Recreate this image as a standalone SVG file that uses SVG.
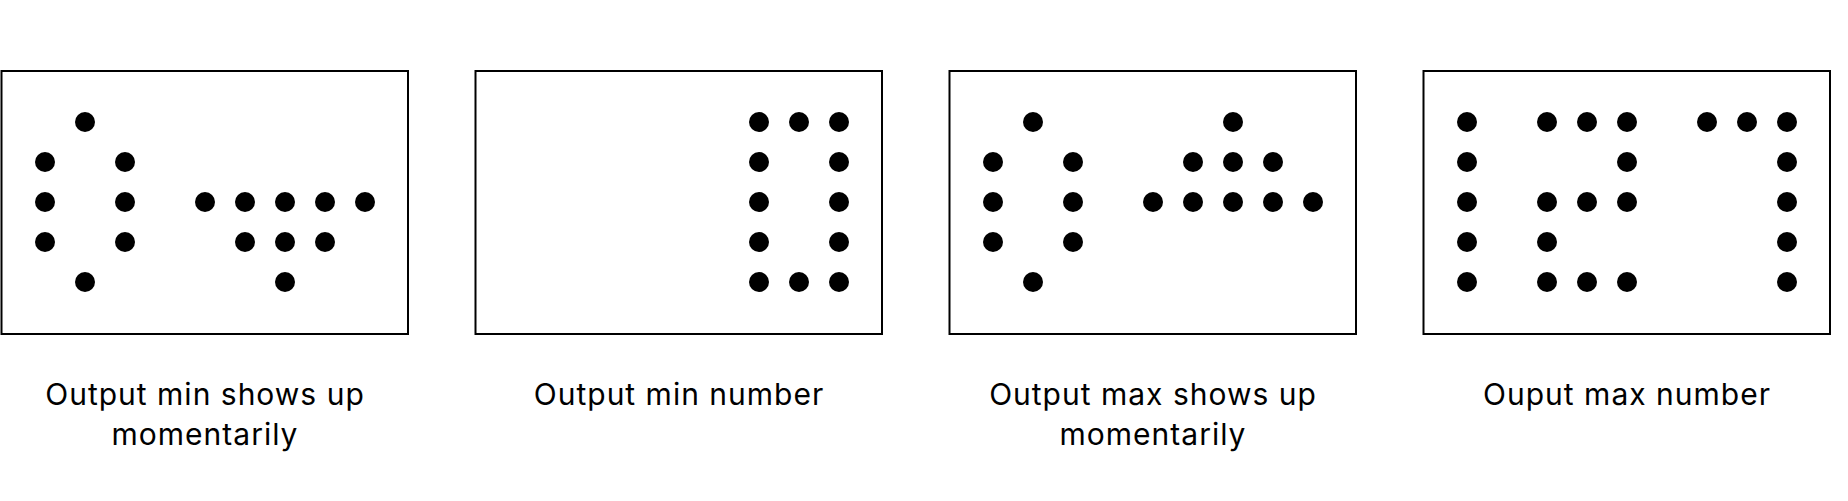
<svg xmlns="http://www.w3.org/2000/svg" width="1848" height="501" viewBox="0 0 1848 501">
<style>
.box{fill:#fff;stroke:#000;stroke-width:2}
.d{fill:#000}
.lbl{font-family:Inter,"Liberation Sans",sans-serif;font-size:30px;fill:#000;text-anchor:middle;letter-spacing:1px}
</style>
<rect width="1848" height="501" fill="#fff"/>
<g id="panel1">
<rect class="box" x="1.5" y="71" width="406.5" height="263"/>
<circle class="d" cx="85" cy="122" r="10"/>
<circle class="d" cx="45" cy="162" r="10"/><circle class="d" cx="125" cy="162" r="10"/>
<circle class="d" cx="45" cy="202" r="10"/><circle class="d" cx="125" cy="202" r="10"/>
<circle class="d" cx="45" cy="242" r="10"/><circle class="d" cx="125" cy="242" r="10"/>
<circle class="d" cx="85" cy="282" r="10"/>
<circle class="d" cx="205" cy="202" r="10"/><circle class="d" cx="245" cy="202" r="10"/><circle class="d" cx="285" cy="202" r="10"/><circle class="d" cx="325" cy="202" r="10"/><circle class="d" cx="365" cy="202" r="10"/>
<circle class="d" cx="245" cy="242" r="10"/><circle class="d" cx="285" cy="242" r="10"/><circle class="d" cx="325" cy="242" r="10"/>
<circle class="d" cx="285" cy="282" r="10"/>
<text class="lbl" x="205" y="405">Output min shows up</text>
<text class="lbl" x="205" y="445">momentarily</text>
</g>
<g id="panel2">
<rect class="box" x="475.5" y="71" width="406.5" height="263"/>
<circle class="d" cx="759" cy="122" r="10"/><circle class="d" cx="799" cy="122" r="10"/><circle class="d" cx="839" cy="122" r="10"/>
<circle class="d" cx="759" cy="162" r="10"/><circle class="d" cx="839" cy="162" r="10"/>
<circle class="d" cx="759" cy="202" r="10"/><circle class="d" cx="839" cy="202" r="10"/>
<circle class="d" cx="759" cy="242" r="10"/><circle class="d" cx="839" cy="242" r="10"/>
<circle class="d" cx="759" cy="282" r="10"/><circle class="d" cx="799" cy="282" r="10"/><circle class="d" cx="839" cy="282" r="10"/>
<text class="lbl" x="679" y="405">Output min number</text>
</g>
<g id="panel3">
<rect class="box" x="949.5" y="71" width="406.5" height="263"/>
<circle class="d" cx="1033" cy="122" r="10"/>
<circle class="d" cx="993" cy="162" r="10"/><circle class="d" cx="1073" cy="162" r="10"/>
<circle class="d" cx="993" cy="202" r="10"/><circle class="d" cx="1073" cy="202" r="10"/>
<circle class="d" cx="993" cy="242" r="10"/><circle class="d" cx="1073" cy="242" r="10"/>
<circle class="d" cx="1033" cy="282" r="10"/>
<circle class="d" cx="1233" cy="122" r="10"/>
<circle class="d" cx="1193" cy="162" r="10"/><circle class="d" cx="1233" cy="162" r="10"/><circle class="d" cx="1273" cy="162" r="10"/>
<circle class="d" cx="1153" cy="202" r="10"/><circle class="d" cx="1193" cy="202" r="10"/><circle class="d" cx="1233" cy="202" r="10"/><circle class="d" cx="1273" cy="202" r="10"/><circle class="d" cx="1313" cy="202" r="10"/>
<text class="lbl" x="1153" y="405">Output max shows up</text>
<text class="lbl" x="1153" y="445">momentarily</text>
</g>
<g id="panel4">
<rect class="box" x="1423.5" y="71" width="406.5" height="263"/>
<circle class="d" cx="1467" cy="122" r="10"/><circle class="d" cx="1467" cy="162" r="10"/><circle class="d" cx="1467" cy="202" r="10"/><circle class="d" cx="1467" cy="242" r="10"/><circle class="d" cx="1467" cy="282" r="10"/>
<circle class="d" cx="1547" cy="122" r="10"/><circle class="d" cx="1587" cy="122" r="10"/><circle class="d" cx="1627" cy="122" r="10"/>
<circle class="d" cx="1627" cy="162" r="10"/>
<circle class="d" cx="1547" cy="202" r="10"/><circle class="d" cx="1587" cy="202" r="10"/><circle class="d" cx="1627" cy="202" r="10"/>
<circle class="d" cx="1547" cy="242" r="10"/>
<circle class="d" cx="1547" cy="282" r="10"/><circle class="d" cx="1587" cy="282" r="10"/><circle class="d" cx="1627" cy="282" r="10"/>
<circle class="d" cx="1707" cy="122" r="10"/><circle class="d" cx="1747" cy="122" r="10"/><circle class="d" cx="1787" cy="122" r="10"/>
<circle class="d" cx="1787" cy="162" r="10"/><circle class="d" cx="1787" cy="202" r="10"/><circle class="d" cx="1787" cy="242" r="10"/><circle class="d" cx="1787" cy="282" r="10"/>
<text class="lbl" x="1627" y="405">Ouput max number</text>
</g>
<g id="connectors"></g>
</svg>
